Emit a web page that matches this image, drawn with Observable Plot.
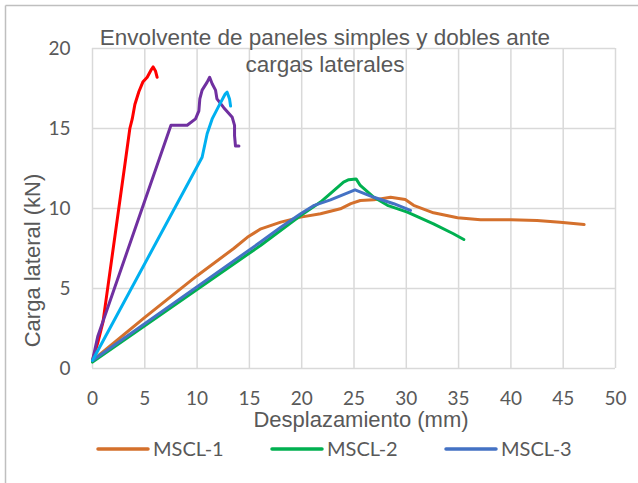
<!DOCTYPE html>
<html>
<head>
<meta charset="utf-8">
<script src="https://cdn.jsdelivr.net/npm/d3@7"></script>
<script src="https://cdn.jsdelivr.net/npm/@observablehq/plot@0.6"></script>
<style>
  html, body { margin: 0; padding: 0; background: #fff; }
  #chart { width: 638px; height: 483px; }
</style>
</head>
<body>
<div id="chart"></div>
<script>
// ---- Data ----
const titleLines = ["Envolvente de paneles simples y dobles ante", "cargas laterales"];
const xLabel = "Desplazamiento (mm)";
const yLabel = "Carga lateral (kN)";
const xTicks = [0, 5, 10, 15, 20, 25, 30, 35, 40, 45, 50];
const yTicks = [0, 5, 10, 15, 20];

// MSCL-1 (orange)
const mscl1X = [0, 5.0, 10.0, 13.5, 14.8, 16.1, 18.0, 19.9, 21.8, 23.7, 24.7, 25.6, 26.9, 28.5, 29.9, 30.7, 32.6, 34.9, 37.1, 40.0, 42.5, 44.7, 47.0];
const mscl1Y = [0.5, 3.2, 5.8, 7.5, 8.2, 8.73, 9.15, 9.46, 9.67, 9.98, 10.3, 10.5, 10.54, 10.7, 10.56, 10.2, 9.73, 9.42, 9.29, 9.29, 9.25, 9.14, 9.0];
// MSCL-2 (green)
const mscl2X = [0, 16.06, 19.9, 21.8, 24.0, 24.5, 25.2, 25.6, 26.9, 28.2, 30.1, 32.6, 34.5, 35.5];
const mscl2Y = [0.4, 7.69, 9.56, 10.4, 11.65, 11.8, 11.85, 11.44, 10.7, 10.2, 9.77, 9.04, 8.42, 8.06];
// MSCL-3 (blue)
const mscl3X = [0, 16.06, 18.0, 19.9, 21.2, 22.75, 25.1, 26.9, 28.8, 30.4];
const mscl3Y = [0.5, 7.9, 8.83, 9.67, 10.2, 10.54, 11.17, 10.7, 10.3, 9.88];
// Red series
const redX = [0, 0.5, 1.0, 3.15, 3.57, 3.8, 4.05, 4.43, 4.81, 5.23, 5.64, 5.8, 6.02, 6.18];
const redY = [0.5, 1.6, 2.9, 13.0, 15.0, 15.6, 16.5, 17.3, 17.9, 18.2, 18.7, 18.85, 18.6, 18.2];
// Purple series
const purpleX = [0, 0.5, 7.5, 9.05, 9.85, 10.17, 10.26, 10.48, 10.96, 11.2, 11.44, 11.76, 11.9, 12.55, 13.36, 13.58, 13.58, 13.67, 14.0];
const purpleY = [0.5, 2.0, 15.2, 15.2, 15.6, 16.1, 16.85, 17.4, 17.9, 18.2, 17.8, 17.4, 16.85, 16.3, 15.7, 15.2, 14.56, 13.9, 13.9];
// Cyan series
const cyanX = [0, 10.48, 10.96, 11.44, 12.07, 12.7, 12.87, 13.1, 13.2];
const cyanY = [0.5, 13.2, 14.67, 15.6, 16.4, 17.17, 17.27, 16.85, 16.4];

const seriesNames = ["MSCL-1", "MSCL-2", "MSCL-3", "S4", "S5", "S6"];
const seriesColors = ["#d4702c", "#00b050", "#4472c4", "#ff0000", "#7030a0", "#00b0f0"];
const legendNames = ["MSCL-1", "MSCL-2", "MSCL-3"];

const seriesXY = [[mscl1X, mscl1Y], [mscl2X, mscl2Y], [mscl3X, mscl3Y], [redX, redY], [purpleX, purpleY], [cyanX, cyanY]];
const tables = seriesXY.map(([xs, ys]) => xs.map((x, i) => ({x, y: ys[i]})));

const lineMarks = tables.map((t, i) => Plot.line(t, {x: "x", y: "y", stroke: seriesColors[i], strokeWidth: 3, strokeLinejoin: "round", strokeLinecap: "round"}));

const W = 638, H = 483;
const chart = Plot.plot({
  width: W,
  height: H,
  marginLeft: 92,
  marginRight: 23,
  marginTop: 48,
  marginBottom: 115,
  style: {fontFamily: "Lato, 'Liberation Sans', sans-serif", color: "#595959", background: "#fff"},
  x: {domain: [0, 50]},
  y: {domain: [0, 20]},
  marks: [
    Plot.gridX(xTicks, {stroke: "#d9d9d9", strokeOpacity: 1, strokeWidth: 1.5}),
    Plot.gridY(yTicks, {stroke: "#d9d9d9", strokeOpacity: 1, strokeWidth: 1.5}),
    Plot.axisX(xTicks, {tickSize: 0, tickPadding: 23, fontSize: 19, label: null, fill: "#595959"}),
    Plot.axisY(yTicks, {tickSize: 0, tickPadding: 22, fontSize: 19, label: null, fill: "#595959"}),
    ...lineMarks
  ]
});
document.getElementById("chart").appendChild(chart);

// ---- Texts, legend, border ----
const svg = d3.select(chart);
const gray = "#595959";
svg.append("line").attr("x1", 5.5).attr("y1", 5.5).attr("x2", 5.5).attr("y2", H).attr("stroke", "#bfbfbf").attr("stroke-width", 1.5);
svg.append("line").attr("x1", 5.5).attr("y1", 5.5).attr("x2", W).attr("y2", 5.5).attr("stroke", "#bfbfbf").attr("stroke-width", 1.5);

const title = svg.append("text")
  .attr("text-anchor", "middle")
  .attr("font-family", "'Liberation Sans', Arial, sans-serif")
  .attr("font-size", 22.5).attr("fill", gray);
titleLines.forEach((t, i) => title.append("tspan").attr("x", 325).attr("y", 45 + i * 27).text(t));

svg.append("text")
  .attr("x", 361).attr("y", 427)
  .attr("text-anchor", "middle")
  .attr("font-family", "'Liberation Sans', Arial, sans-serif")
  .attr("font-size", 22).attr("fill", gray)
  .text(xLabel);

svg.append("text")
  .attr("transform", "translate(40,260.5) rotate(-90)")
  .attr("text-anchor", "middle")
  .attr("font-family", "'Liberation Sans', Arial, sans-serif")
  .attr("font-size", 22).attr("fill", gray)
  .text(yLabel);

const legendX = [98, 272, 446];
legendNames.forEach((name, i) => {
  const x0 = legendX[i];
  svg.append("line").attr("x1", x0).attr("x2", x0 + 50).attr("y1", 449).attr("y2", 449)
    .attr("stroke", seriesColors[i]).attr("stroke-width", 3.5).attr("stroke-linecap", "round");
  svg.append("text").attr("x", x0 + 55).attr("y", 456)
    .attr("text-anchor", "start")
    .attr("font-family", "Lato, 'Liberation Sans', sans-serif")
    .attr("font-size", 20).attr("fill", gray).text(name);
});
</script>
</body>
</html>
